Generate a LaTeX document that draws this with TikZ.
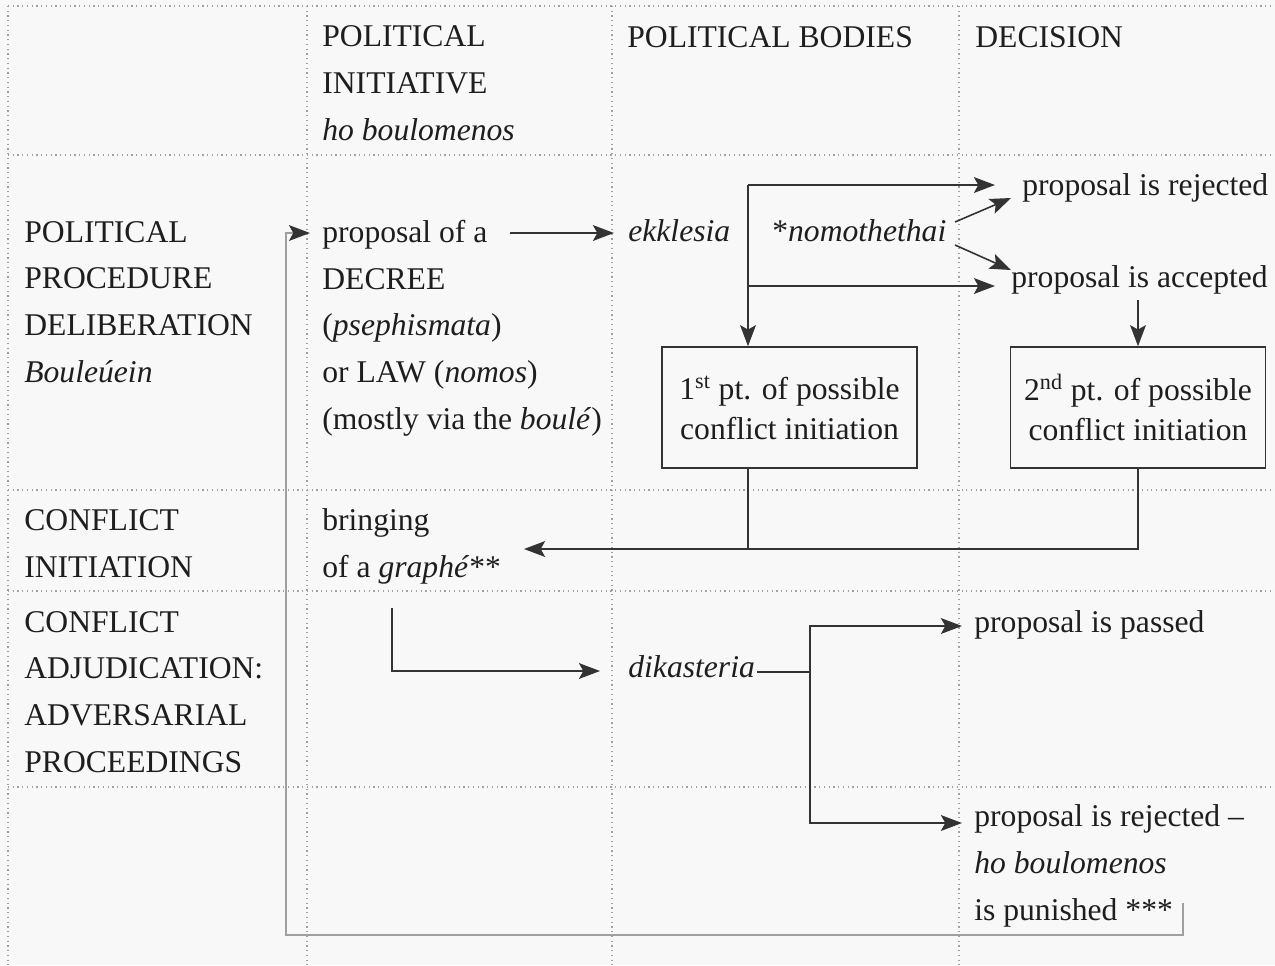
\documentclass[tikz,border=0pt]{standalone}
\usepackage{fontspec}
\setmainfont{Liberation Serif}
\usepackage{tikz}
\usetikzlibrary{arrows.meta}
\definecolor{ink}{HTML}{1E1E1E}
\definecolor{rulecol}{HTML}{333333}
\definecolor{faint}{HTML}{A0A0A0}
\definecolor{paper}{HTML}{F8F8F8}
\tikzstyle{txt}=[anchor=base west,align=left,inner sep=0pt,text=ink,font=\fontsize{18}{26.5}\selectfont]
\tikzstyle{ptbox}=[draw=rulecol,line width=0.9pt,minimum width=5.1cm,minimum height=2.42cm,align=center,text=ink,font=\fontsize{18}{22.7}\selectfont]
\tikzstyle{plain}=[draw=rulecol,line width=0.9pt]
\tikzstyle{flow}=[plain,-{Stealth[length=12pt,width=9pt,inset=2.5pt]}]
\tikzstyle{cellrule}=[draw=faint,dotted,line width=0.7pt]
\tikzstyle{feedback}=[draw=faint,line width=0.8pt,-{Stealth[length=12pt,width=9pt,inset=2.5pt,color=rulecol]}]

\begin{document}
\begin{tikzpicture}[x=0.02cm,y=-0.02cm]
    \useasboundingbox[fill=paper] (0,0) rectangle (1275,965);
    % First we draw the dotted table rules
    \foreach \x in {8,307,612,959}
        \path[cellrule] (\x,6) -- (\x,965);
    \foreach \y in {6,155,490,591,787}
        \path[cellrule] (8,\y) -- (1275,\y);

    % Column heads (multi-line texts sit on their last line)
    \node[txt] (initiative) at (322,140) {POLITICAL\\INITIATIVE\\\textit{ho boulomenos}};
    \node[txt] (bodies) at (627,47) {POLITICAL BODIES};
    \node[txt] (decision) at (975,47) {DECISION};

    % Row heads
    \node[txt] (deliberation) at (24,382) {POLITICAL\\PROCEDURE\\DELIBERATION\\\textit{Bouleúein}};
    \node[txt] (initiation) at (24,577) {CONFLICT\\INITIATION};
    \node[txt] (adjudication) at (24,772) {CONFLICT\\ADJUDICATION:\\ADVERSARIAL\\PROCEEDINGS};

    % Then the steps
    \node[txt] (proposal) at (322,429) {proposal of a\\DECREE\\(\textit{psephismata})\\or LAW (\textit{nomos})\\(mostly via the \textit{boulé})};
    \node[txt] (ekklesia) at (628,241) {\textit{ekklesia}};
    \node[txt] (nomothethai) at (772,241) {*\textit{nomothethai}};
    \node[txt] (rejected) at (1022,195) {proposal is rejected};
    \node[txt] (accepted) at (1011,287) {proposal is accepted};
    \node[ptbox] (pt1) at (789.5,407.5) {1\textsuperscript{st} pt. of possible\\conflict initiation};
    \node[ptbox] (pt2) at (1138,407.5) {2\textsuperscript{nd} pt. of possible\\conflict initiation};
    \node[txt] (graphe) at (322,577) {bringing\\of a \textit{graphé}**};
    \node[txt] (dikasteria) at (628,677) {\textit{dikasteria}};
    \node[txt] (passed) at (974,632) {proposal is passed};
    \node[txt] (punished) at (974,920) {proposal is rejected --\\\textit{ho boulomenos}\\is punished ***};

    % Bends and free ends of the connectors
    \foreach \x/\y/\name in {510/233/propout, 614/233/ekkin, 748/185/split1, 995/185/rejin, 995/286/accin,
                             955/222/nomoup, 1011/198/nomoupin, 955/245/nomodown, 1011/270/nomodownin,
                             748/549/back, 524/549/graphein, 392/608/grapheout, 600/671/dikin,
                             757/672/dikout, 810/672/split2, 962/626/passin, 962/823/failin,
                             1183/903/fbstart, 286/935/fbcorner, 310/233/propin}
        \coordinate (\name) at (\x,\y);

    % Connect the steps
    \foreach \source/\dest in {propout/ekkin, split1/rejin, nomoup/nomoupin, nomodown/nomodownin}
        \path[flow] (\source) -- (\dest);
    \path[flow] (split1 |- accin) -- (accin);
    \path[flow] (split1) -- (split1 |- pt1.north);
    \path[flow] (accepted.south -| pt2.north) ++(0,6) -- (pt2.north);
    \path[plain] (pt1.south -| back) -- (back);
    \path[flow] (pt2.south) |- (graphein);
    \path[flow] (grapheout) |- (dikin);
    \path[plain] (dikout) -- (split2);
    \path[flow] (split2) |- (passin);
    \path[flow] (split2) |- (failin);
    \path[feedback] (fbstart) |- (fbcorner) |- (propin);
\end{tikzpicture}
\end{document}
